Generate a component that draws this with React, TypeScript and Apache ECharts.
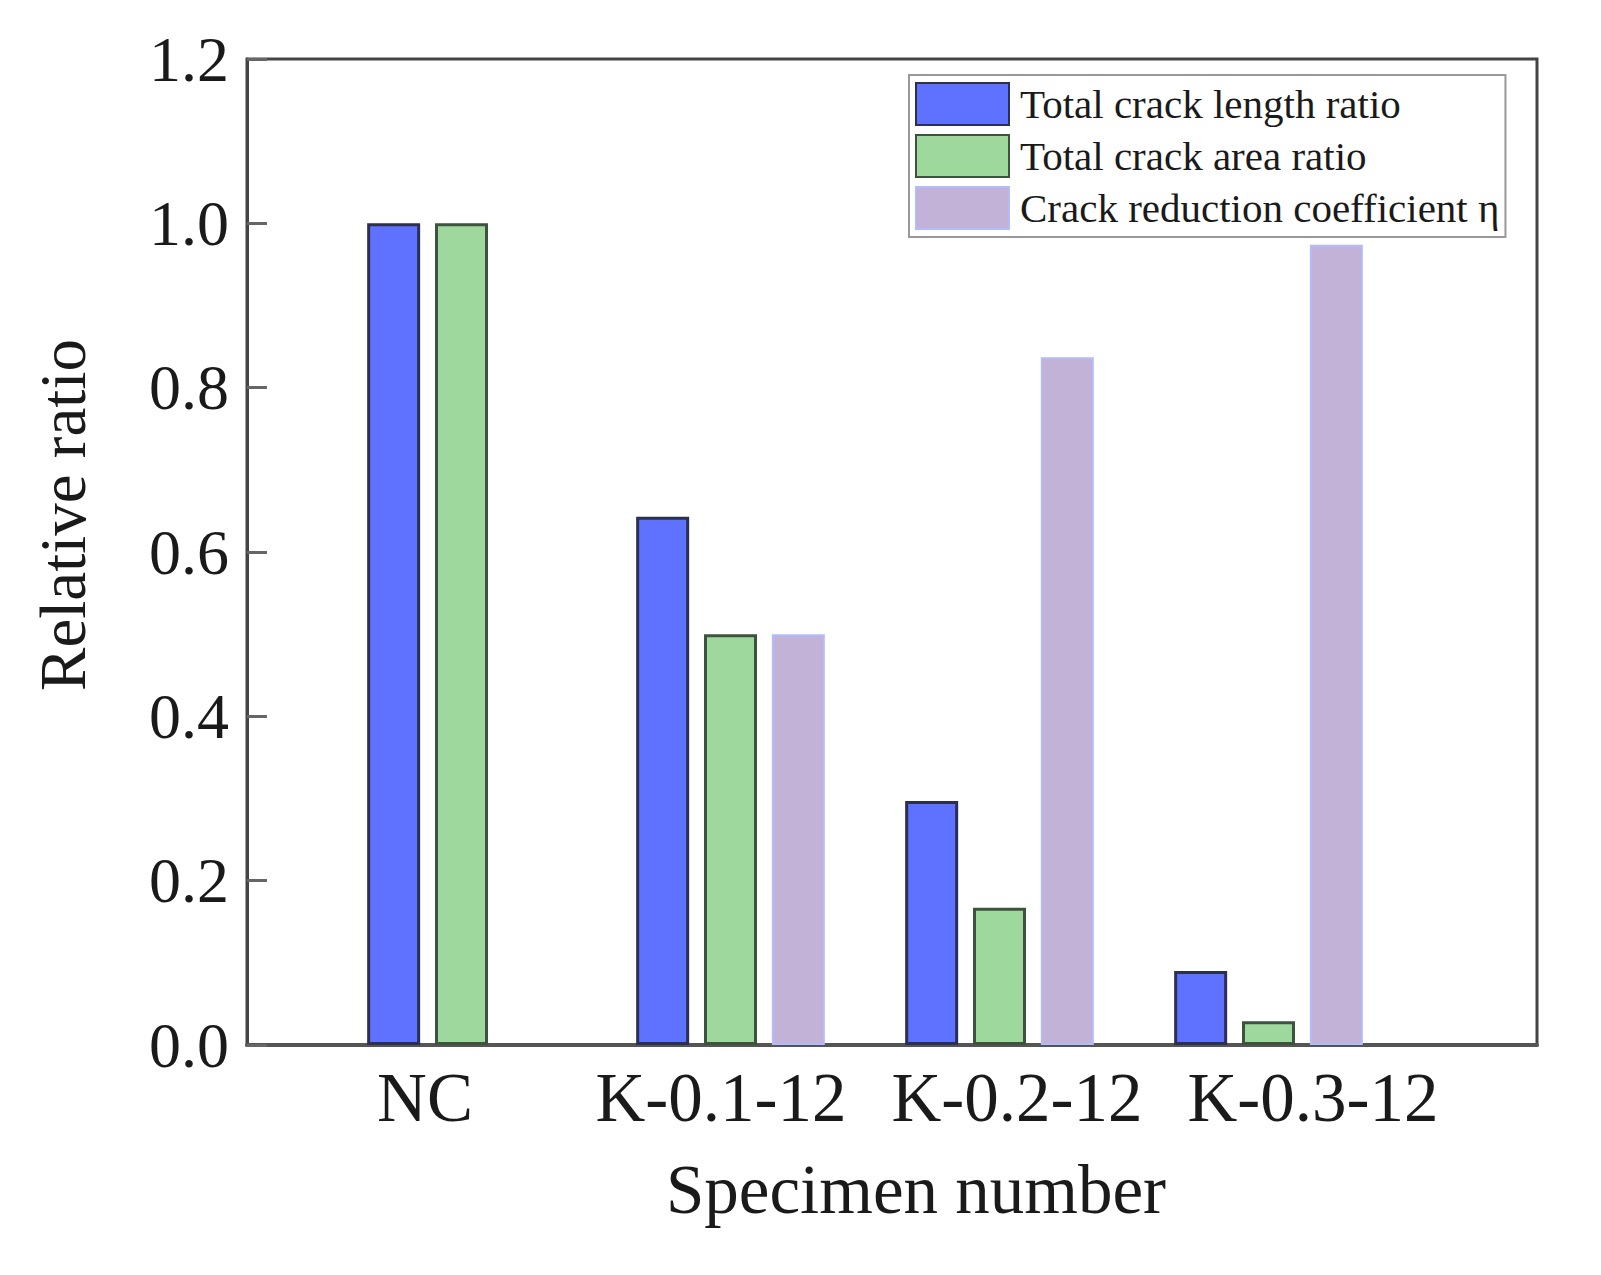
import React, { useEffect, useRef } from 'react';
import * as echarts from 'echarts';

// specimens and ratios
const specimens = ['NC', 'K-0.1-12', 'K-0.2-12', 'K-0.3-12'];
const labelSlots = [0, 1, 2, 3];
const lengthRatio = [1.0, 0.643, 0.297, 0.09];
const areaRatio = [1.0, 0.5, 0.167, 0.029];
const reductionCoef: (number | null)[] = [null, 0.5, 0.837, 0.974];
const seriesNames = [
  'Total crack length ratio',
  'Total crack area ratio',
  'Crack reduction coefficient η',
];

const FONT = "'Liberation Serif', 'Times New Roman', serif";

const App: React.FC = () => {
  const chartRef = useRef<HTMLDivElement>(null);

  useEffect(() => {
    if (!chartRef.current) return;
    const chart = echarts.init(chartRef.current, undefined, { renderer: 'svg' });

    const axisColor = '#444';

    const option: echarts.EChartsOption = {
      animation: false,
      backgroundColor: '#fff',
      legend: {
        left: 909,
        top: 75,
        orient: 'vertical',
        itemWidth: 93,
        itemHeight: 42,
        itemGap: 8,
        padding: [7, 6, 7, 6],
        borderColor: '#999',
        borderWidth: 2,
        backgroundColor: '#fff',
        icon: 'rect',
        textStyle: {
          fontFamily: FONT,
          fontSize: 41,
          color: '#1a1a1a',
          padding: [0, 0, 0, 6],
        },
        data: seriesNames,
      },
      grid: [
        // frame with the visible axes
        { left: 247, right: 64, top: 59, bottom: 230, show: true, borderColor: axisColor, borderWidth: 3 },
        // bars
        { left: 327, right: 198, top: 59, bottom: 230 },
      ],
      xAxis: [
        {
          type: 'value',
          gridIndex: 0,
          min: -0.6014,
          max: 3.7568,
          name: 'Specimen number',
          nameLocation: 'middle',
          nameGap: 110,
          nameTextStyle: { fontFamily: FONT, fontSize: 69, color: '#1a1a1a', padding: [0, 0, 0, 48] },
          axisLine: { show: true, onZero: false, lineStyle: { color: '#555', width: 4 } },
          axisTick: { show: false },
          splitLine: { show: false },
          axisLabel: {
            customValues: labelSlots,
            formatter: (v: number) => specimens[Math.round(v)] ?? '',
            fontFamily: FONT,
            fontSize: 69,
            color: '#1a1a1a',
            margin: 18,
          },
        },
        {
          type: 'category',
          gridIndex: 1,
          data: specimens,
          show: false,
        },
      ],
      yAxis: [
        {
          type: 'value',
          gridIndex: 0,
          min: 0,
          max: 1.2,
          interval: 0.2,
          name: 'Relative ratio',
          nameLocation: 'middle',
          nameGap: 152,
          nameTextStyle: { fontFamily: FONT, fontSize: 65, color: '#1a1a1a', padding: [0, 0, 0, 74] },
          axisLine: { show: true, onZero: false, lineStyle: { color: axisColor, width: 3 } },
          axisTick: { show: true, inside: true, length: 20, lineStyle: { color: '#666', width: 3 } },
          splitLine: { show: false },
          axisLabel: {
            formatter: (v: number) => v.toFixed(1),
            fontFamily: FONT,
            fontSize: 64,
            color: '#1a1a1a',
            margin: 18,
          },
        },
        {
          type: 'value',
          gridIndex: 1,
          min: 0,
          max: 1.2,
          show: false,
          splitLine: { show: false },
        },
      ],
      series: [
        {
          name: seriesNames[0],
          type: 'bar',
          xAxisIndex: 1,
          yAxisIndex: 1,
          data: lengthRatio,
          barWidth: 53,
          barGap: '28%',
          itemStyle: { color: '#5F71FF', borderColor: '#2B3050', borderWidth: 3 },
        },
        {
          name: seriesNames[1],
          type: 'bar',
          xAxisIndex: 1,
          yAxisIndex: 1,
          data: areaRatio,
          barWidth: 53,
          barGap: '28%',
          itemStyle: { color: '#9FD89C', borderColor: '#3E533E', borderWidth: 3 },
        },
        {
          name: seriesNames[2],
          type: 'bar',
          xAxisIndex: 1,
          yAxisIndex: 1,
          data: reductionCoef,
          barWidth: 53,
          barGap: '28%',
          itemStyle: { color: '#C2B2D8', borderColor: '#B3BBFF', borderWidth: 2 },
        },
      ],
    };

    chart.setOption(option);
    return () => {
      chart.dispose();
    };
  }, []);

  return (
    <div
      ref={chartRef}
      style={{ position: 'fixed', left: 0, top: 0, width: '1601px', height: '1275px' }}
    />
  );
};

export default App;
